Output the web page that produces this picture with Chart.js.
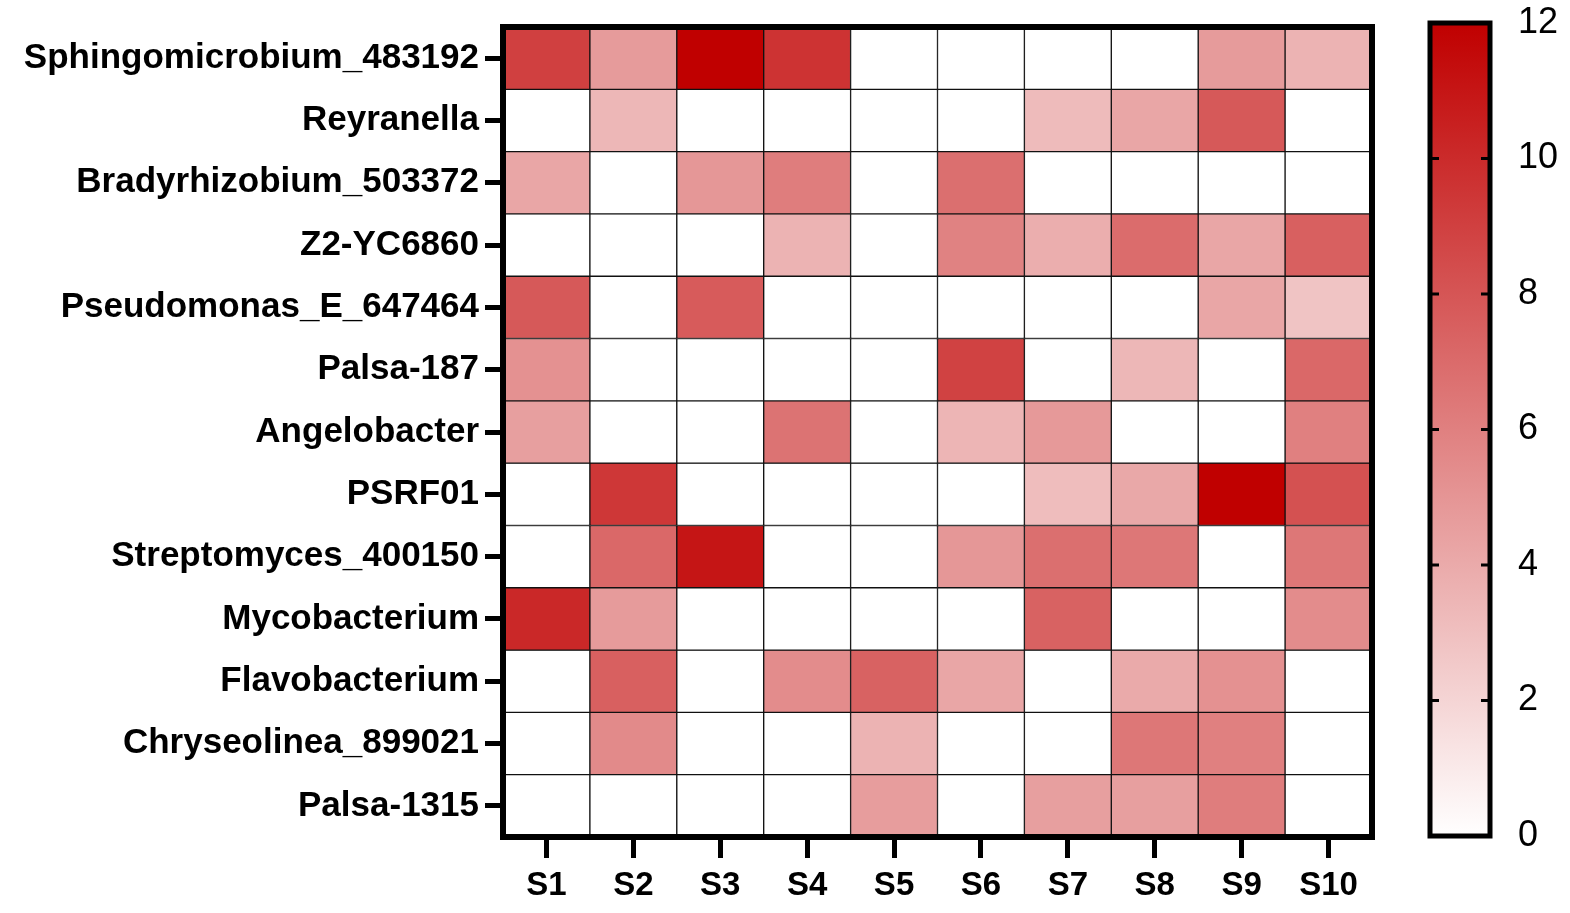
<!DOCTYPE html>
<html>
<head>
<meta charset="utf-8">
<script src="https://cdn.jsdelivr.net/npm/chart.js@4.4.1/dist/chart.umd.min.js"></script>
<style>
    body { margin: 0; background: #fff; }
    #mainBox { position: absolute; left: 0; top: 0; width: 1400px; height: 913px; }
    #barBox { position: absolute; left: 1400px; top: 0; width: 170px; height: 913px; }
</style>
</head>
<body>
<div id="mainBox"><canvas id="heatmap"></canvas></div>
<div id="barBox"><canvas id="colorbar"></canvas></div>
<script>
const genera = [
    "Sphingomicrobium_483192",
    "Reyranella",
    "Bradyrhizobium_503372",
    "Z2-YC6860",
    "Pseudomonas_E_647464",
    "Palsa-187",
    "Angelobacter",
    "PSRF01",
    "Streptomyces_400150",
    "Mycobacterium",
    "Flavobacterium",
    "Chryseolinea_899021",
    "Palsa-1315"
];
const samples = ["S1", "S2", "S3", "S4", "S5", "S6", "S7", "S8", "S9", "S10"];
// one row per genus, columns S1..S10
const abundance = [
    [9.0, 4.7, 12.0, 9.6, 0, 0, 0, 0, 4.7, 3.6],
    [0, 3.4, 0, 0, 0, 0, 3.2, 4.2, 7.8, 0],
    [4.2, 0, 4.9, 6.1, 0, 6.8, 0, 0, 0, 0],
    [0, 0, 0, 3.6, 0, 5.9, 3.8, 6.9, 4.2, 7.5],
    [7.8, 0, 7.7, 0, 0, 0, 0, 0, 4.2, 2.8],
    [5.2, 0, 0, 0, 0, 8.9, 0, 3.4, 0, 7.1],
    [4.5, 0, 0, 6.6, 0, 3.5, 4.8, 0, 0, 6.0],
    [0, 9.4, 0, 0, 0, 0, 3.1, 4.1, 12.0, 8.2],
    [0, 7.1, 11.0, 0, 0, 4.9, 6.8, 6.4, 0, 6.4],
    [10.1, 4.7, 0, 0, 0, 0, 7.4, 0, 0, 5.4],
    [0, 7.5, 0, 5.4, 7.4, 4.2, 0, 4.0, 5.2, 0],
    [0, 5.5, 0, 0, 3.6, 0, 0, 6.4, 6.0, 0],
    [0, 0, 0, 0, 4.6, 0, 4.5, 4.5, 6.1, 0]
];
const scaleMin = 0;
const scaleMax = 12;
const colorTicks = [0, 2, 4, 6, 8, 10, 12];

const FONT = "'Liberation Sans', Arial, sans-serif";

function valueColor(v) {
    const t = Math.max(0, Math.min(1, (v - scaleMin) / (scaleMax - scaleMin)));
    const r = Math.round(255 + (192 - 255) * t);
    const g = Math.round(255 * (1 - t));
    return `rgb(${r},${g},${g})`;
}

const framePlugin = {
    id: 'frame',
    afterDatasetsDraw(chart, args, opts) {
        const a = chart.chartArea;
        const ctx = chart.ctx;
        ctx.save();
        ctx.strokeStyle = '#000';
        ctx.lineWidth = opts.width || 6;
        ctx.strokeRect(a.left, a.top, a.right - a.left, a.bottom - a.top);
        ctx.restore();
    }
};

// each genus is a dataset of floating bars spanning its row
const datasets = genera.map((name, i) => ({
    label: name,
    data: samples.map(s => ({ x: s, y: [i - 0.5, i + 0.5] })),
    backgroundColor: abundance[i].map(valueColor),
    borderColor: '#111',
    borderWidth: 1,
    borderSkipped: false,
    grouped: false,
    barPercentage: 1,
    categoryPercentage: 1
}));

new Chart(document.getElementById('heatmap'), {
    type: 'bar',
    data: { labels: samples, datasets: datasets },
    options: {
        responsive: true,
        maintainAspectRatio: false,
        animation: false,
        layout: { padding: { top: 22, right: 28, left: 0, bottom: 0 } },
        plugins: {
            legend: { display: false },
            tooltip: { enabled: false },
            frame: { width: 6 }
        },
        scales: {
            x: {
                type: 'category',
                offset: true,
                grid: { offset: false, drawOnChartArea: false, tickLength: 21, tickWidth: 5, tickColor: '#000' },
                border: { display: false },
                ticks: { color: '#000', font: { family: FONT, size: 33, weight: 'bold' }, padding: 8, maxRotation: 0 },
                afterFit: scale => { scale.height = 76; }
            },
            y: {
                type: 'linear',
                reverse: true,
                min: -0.5,
                max: genera.length - 0.5,
                afterBuildTicks: scale => { scale.ticks = genera.map((g, i) => ({ value: i })); },
                grid: { drawOnChartArea: false, tickLength: 18, tickWidth: 5, tickColor: '#000' },
                border: { display: false },
                ticks: {
                    color: '#000',
                    font: { family: FONT, size: 35, weight: 'bold' },
                    padding: 6,
                    autoSkip: false,
                    callback: v => genera[v]
                },
                afterFit: scale => { scale.width = 503; }
            }
        }
    },
    plugins: [framePlugin]
});

const innerTicks = {
    id: 'innerTicks',
    afterDatasetsDraw(chart) {
        const a = chart.chartArea;
        const y = chart.scales.y;
        const ctx = chart.ctx;
        ctx.save();
        ctx.strokeStyle = '#000';
        ctx.lineWidth = 3;
        colorTicks.slice(1, -1).forEach(v => {
            const py = y.getPixelForValue(v);
            ctx.beginPath();
            ctx.moveTo(a.left, py); ctx.lineTo(a.left + 9, py);
            ctx.moveTo(a.right - 9, py); ctx.lineTo(a.right, py);
            ctx.stroke();
        });
        ctx.restore();
    }
};

new Chart(document.getElementById('colorbar'), {
    type: 'bar',
    data: {
        labels: ['scale'],
        datasets: [{
            data: [[scaleMin, scaleMax]],
            backgroundColor: c => {
                const chart = c.chart;
                const y = chart.scales.y;
                if (!chart.chartArea || !y) return '#fff';
                const g = chart.ctx.createLinearGradient(0, y.getPixelForValue(scaleMin), 0, y.getPixelForValue(scaleMax));
                g.addColorStop(0, valueColor(scaleMin));
                g.addColorStop(0.5, valueColor((scaleMin + scaleMax) / 2));
                g.addColorStop(1, valueColor(scaleMax));
                return g;
            },
            borderWidth: 0,
            barPercentage: 1,
            categoryPercentage: 1
        }]
    },
    options: {
        responsive: true,
        maintainAspectRatio: false,
        animation: false,
        layout: { padding: { top: 23, left: 30, right: 0, bottom: 77 } },
        plugins: {
            legend: { display: false },
            tooltip: { enabled: false },
            frame: { width: 5 }
        },
        scales: {
            x: { display: false },
            y: {
                position: 'right',
                min: scaleMin,
                max: scaleMax,
                afterBuildTicks: scale => { scale.ticks = colorTicks.map(v => ({ value: v })); },
                grid: { display: false },
                border: { display: false },
                ticks: { color: '#000', font: { family: FONT, size: 36 }, padding: 20 },
                afterFit: scale => {
                    scale.width = 80;
                    scale.paddingTop = 0;
                    scale.paddingBottom = 0;
                }
            }
        }
    },
    plugins: [framePlugin, innerTicks]
});
</script>
</body>
</html>
